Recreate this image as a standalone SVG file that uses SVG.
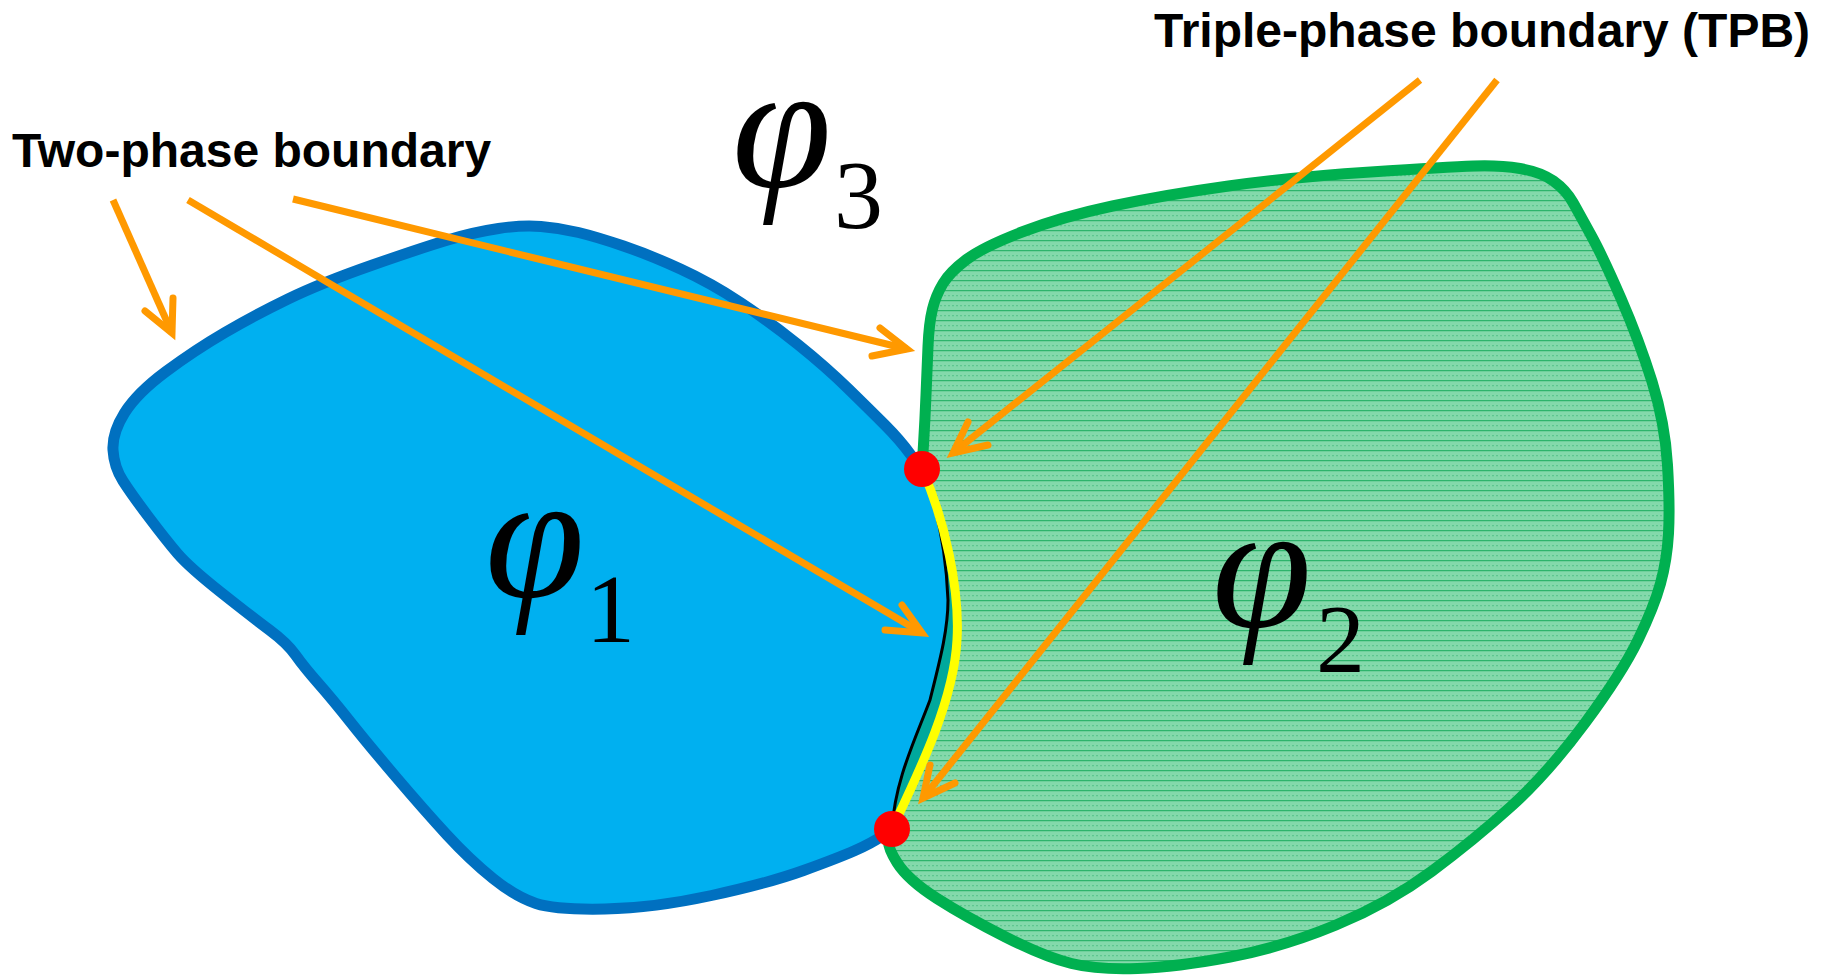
<svg xmlns="http://www.w3.org/2000/svg" width="1825" height="979" viewBox="0 0 1825 979">
<defs>
<pattern id="hatch" patternUnits="userSpaceOnUse" width="8" height="10">
<rect width="8" height="10" fill="#84D9AB"/>
<line x1="0" y1="0.6" x2="8" y2="0.6" stroke="#2EB46C" stroke-width="1.3"/>
<line x1="0" y1="5.6" x2="8" y2="5.6" stroke="#5EC790" stroke-width="1.2" stroke-dasharray="2 2"/>
</pattern>
</defs>
<style>
.outline{fill:none;stroke-width:11;stroke-linecap:round;stroke-linejoin:round}
.arrow{fill:none;stroke:#FF9900;stroke-width:7}
.head{fill:none;stroke:#FF9900;stroke-width:7;stroke-linecap:round;stroke-linejoin:miter}
.lbl{font-family:"Liberation Sans",Arial,sans-serif;font-weight:bold;font-size:48px;fill:#000}
.phi{font-family:"Liberation Serif","Times New Roman",serif;font-style:italic;font-size:180px;fill:#000}
.sub{font-family:"Liberation Serif","Times New Roman",serif;font-style:normal;font-size:98px;fill:#000}
</style>

<g id="phase2">
<path fill="url(#hatch)" d="M922,469 L923.5,444.5 Q925,420 926,395 Q927,370 928,346.5 Q929,323 932.5,309 Q936,295 943,283.5 Q950,272 966.5,259.5 Q983,247 1022,232 Q1061,217 1112.5,206 Q1164,195 1228.5,186 Q1293,177 1370.5,172 Q1448,167 1473.5,166 Q1499,165 1520,168.5 Q1541,172 1553.5,181 Q1566,190 1573,202.5 Q1580,215 1591.5,236 Q1603,257 1621,298.5 Q1639,340 1652,381.5 Q1665,423 1667.5,465 Q1670,507 1668.5,533.5 Q1667,560 1660.5,583.5 Q1654,607 1638,640 Q1622,673 1585,723 Q1548,773 1511,806.5 Q1474,840 1431.5,871.5 Q1389,903 1336,925 Q1283,947 1230,957 Q1177,967 1137.5,968.5 Q1098,970 1071.5,963.5 Q1045,957 1005.5,937 Q966,917 937,898.5 Q908,880 897,862.5 Q886,845 889,837 L892,829 C920,770 954,700 957,640 C960,590 945,520 922,469 Z"/>
<path class="outline" stroke="#00B050" d="M922,469 L923.5,444.5 Q925,420 926,395 Q927,370 928,346.5 Q929,323 932.5,309 Q936,295 943,283.5 Q950,272 966.5,259.5 Q983,247 1022,232 Q1061,217 1112.5,206 Q1164,195 1228.5,186 Q1293,177 1370.5,172 Q1448,167 1473.5,166 Q1499,165 1520,168.5 Q1541,172 1553.5,181 Q1566,190 1573,202.5 Q1580,215 1591.5,236 Q1603,257 1621,298.5 Q1639,340 1652,381.5 Q1665,423 1667.5,465 Q1670,507 1668.5,533.5 Q1667,560 1660.5,583.5 Q1654,607 1638,640 Q1622,673 1585,723 Q1548,773 1511,806.5 Q1474,840 1431.5,871.5 Q1389,903 1336,925 Q1283,947 1230,957 Q1177,967 1137.5,968.5 Q1098,970 1071.5,963.5 Q1045,957 1005.5,937 Q966,917 937,898.5 Q908,880 897,862.5 Q886,845 889,837 L892,829"/>
<text class="phi" x="1212" y="627">φ<tspan class="sub" x="1316" y="672">2</tspan></text>
</g>

<g id="overlap">
<path fill="#00A89C" d="M892,829 C920,770 954,700 957,640 C960,590 945,520 922,469 C937,505 946,550 948,600 C948,630 940,660 930,700 C915,740 895,780 892,829 Z"/>
</g>

<g id="phase1">
<path fill="#00B0F0" d="M921,469 L910.5,454.5 Q900,440 885,425 Q870,410 848,388.5 Q826,367 798,344.5 Q770,322 740.5,302.5 Q711,283 680.5,269 Q650,255 623.5,246 Q597,237 578.5,232.5 Q560,228 541,226.5 Q522,225 498.5,228.5 Q475,232 449.5,239.5 Q424,247 372.5,265 Q321,283 288,299 Q255,315 225,332.5 Q195,350 166,371.5 Q137,393 124.5,413 Q112,433 113,450 Q114,467 123,481 Q132,495 149,517.5 Q166,540 177.5,553.5 Q189,567 220.5,592 Q252,617 269.5,630 Q287,643 295.5,655 Q304,667 318.5,683.5 Q333,700 350,721.5 Q367,743 395.5,776.5 Q424,810 447,835 Q470,860 493,878.5 Q516,897 536,903.5 Q556,910 605,909 Q654,908 711.5,895.5 Q769,883 803.5,870.5 Q838,858 855,850.5 Q872,843 882,836 L892,829 C895,780 915,740 930,700 C940,660 948,630 948,600 C946,550 937,505 921,469 Z"/>
<path class="outline" stroke="#0070C0" d="M921,469 L910.5,454.5 Q900,440 885,425 Q870,410 848,388.5 Q826,367 798,344.5 Q770,322 740.5,302.5 Q711,283 680.5,269 Q650,255 623.5,246 Q597,237 578.5,232.5 Q560,228 541,226.5 Q522,225 498.5,228.5 Q475,232 449.5,239.5 Q424,247 372.5,265 Q321,283 288,299 Q255,315 225,332.5 Q195,350 166,371.5 Q137,393 124.5,413 Q112,433 113,450 Q114,467 123,481 Q132,495 149,517.5 Q166,540 177.5,553.5 Q189,567 220.5,592 Q252,617 269.5,630 Q287,643 295.5,655 Q304,667 318.5,683.5 Q333,700 350,721.5 Q367,743 395.5,776.5 Q424,810 447,835 Q470,860 493,878.5 Q516,897 536,903.5 Q556,910 605,909 Q654,908 711.5,895.5 Q769,883 803.5,870.5 Q838,858 855,850.5 Q872,843 882,836 L892,829"/>
<path fill="none" stroke="#000" stroke-width="3" d="M892,829 C895,780 915,740 930,700 C940,660 948,630 948,600 C946,550 937,505 921,469"/>
<text class="phi" x="485" y="597">φ<tspan class="sub" x="586" y="642">1</tspan></text>
</g>

<g id="tpb">
<path fill="none" stroke="#FFFF00" stroke-width="9" d="M922,469 C945,520 960,590 957,640 C954,700 920,770 892,829"/>
<circle cx="922" cy="469" r="18" fill="#FF0000"/>
<circle cx="892" cy="829" r="18" fill="#FF0000"/>
</g>

<g id="phase3">
<text class="phi" x="732" y="187">φ<tspan class="sub" x="834" y="228">3</tspan></text>
</g>

<g id="labels">
<text class="lbl" x="12" y="167">Two-phase boundary</text>
<text class="lbl" x="1154" y="47">Triple-phase boundary (TPB)</text>
</g>

<g id="connectors">
<line class="arrow" x1="113" y1="200" x2="172" y2="333"/>
<path class="head" d="M173,298 L172,333 L145,311"/>
<line class="arrow" x1="188" y1="200" x2="922" y2="633"/>
<path class="head" d="M902,605 L922,633 L885,630"/>
<line class="arrow" x1="293" y1="199" x2="907" y2="349"/>
<path class="head" d="M880,328 L907,349 L872,356"/>
<line class="arrow" x1="1420" y1="80" x2="953" y2="453"/>
<path class="head" d="M968,422 L953,453 L988,445"/>
<line class="arrow" x1="1497" y1="80" x2="923" y2="798"/>
<path class="head" d="M930,765 L923,798 L955,783"/>
</g>
</svg>
